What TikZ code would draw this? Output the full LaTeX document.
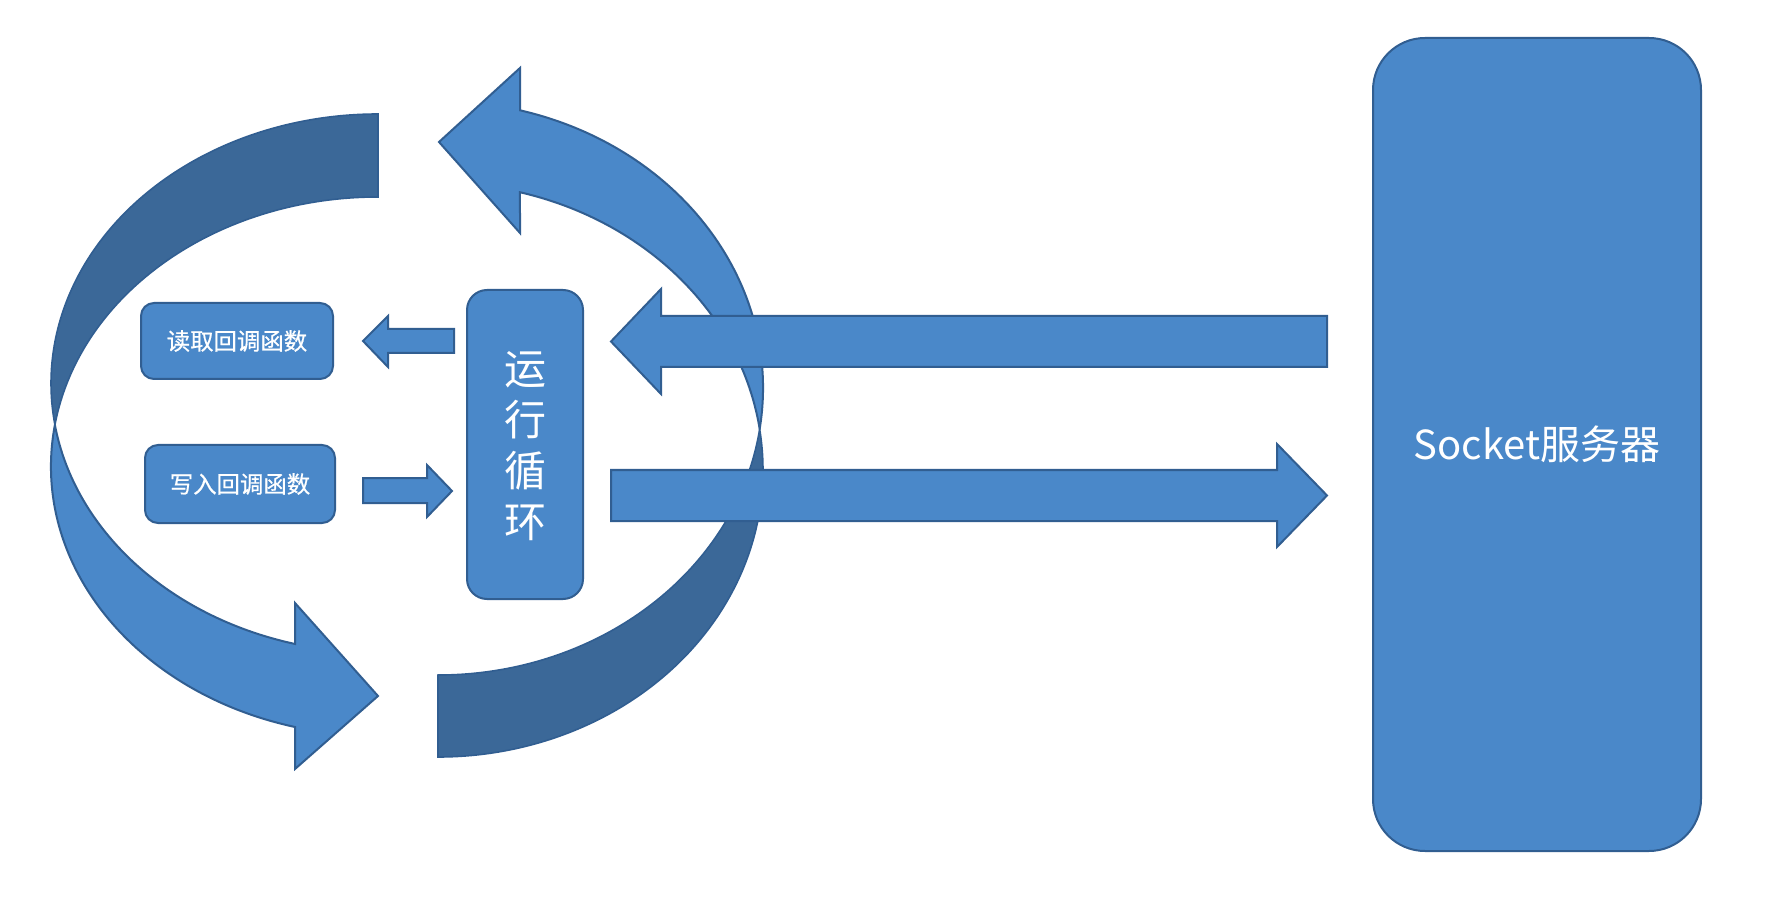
\documentclass[tikz,border=0pt]{standalone}
\usepackage{fontspec}
\setmainfont{Noto Sans CJK SC}
\newfontfamily\semibold{Noto Sans CJK SC}[FakeBold=0.6]
\definecolor{lightblue}{HTML}{4A88C9}
\definecolor{darkblue}{HTML}{3B6898}
\definecolor{edgeblue}{HTML}{315E91}
\begin{document}
\begin{tikzpicture}[x=0.5pt,y=-0.5pt,
  blk/.style={fill=lightblue,draw=edgeblue,line width=1pt,line join=miter},
  drk/.style={fill=darkblue,draw=edgeblue,line width=0.8pt},
  cbox/.style={blk,text=white,inner sep=0pt,align=center},
  smalltxt/.style={font=\semibold\fontsize{11.7pt}{14pt}\selectfont},
  bigtxt/.style={font=\fontsize{21pt}{25.5pt}\selectfont},
  socktxt/.style={font=\fontsize{20pt}{24pt}\selectfont}]
\useasboundingbox (0,0) rectangle (1772,898);
\fill[white] (0,0) rectangle (1772,898);

% left circular arrow: dark back part
\path[drk] (378,114)
  arc[start angle=270,end angle=171.12,x radius=327,y radius=269.4]
  arc[start angle=188.84,end angle=270,x radius=327,y radius=269.4] -- cycle;
% left circular arrow: light front part with head
\path[blk] (54.92,424.98)
  arc[start angle=171.12,end angle=104.70,x radius=327,y radius=269.4]
  -- (295,603) -- (378,696) -- (295,769) -- (295,727)
  arc[start angle=104.70,end angle=188.84,x radius=327,y radius=269.4] -- cycle;

% right circular arrow: dark back part
\path[drk] (438,757)
  arc[start angle=90,end angle=-8.21,x radius=325,y radius=287]
  arc[start angle=8.21,end angle=90,x radius=325,y radius=287] -- cycle;
% right circular arrow: light front part with head
\path[blk] (759.67,429)
  arc[start angle=-8.21,end angle=-75.39,x radius=325,y radius=287]
  -- (520,233) -- (439,142) -- (520,68) -- (520,110.3)
  arc[start angle=-75.39,end angle=8.21,x radius=325,y radius=287] -- cycle;

% boxes
\node[cbox,smalltxt,minimum width=96pt,minimum height=38pt,rounded corners=6.5pt] (read) at (237,341) {读取回调函数};
\node[cbox,smalltxt,minimum width=95pt,minimum height=39pt,rounded corners=6.5pt] (write) at (240,484) {写入回调函数};
\node[cbox,bigtxt,minimum width=58pt,minimum height=154.5pt,rounded corners=10pt] (loop) at (525,444.5) {};
\node[text=white,bigtxt,align=center,inner sep=0pt] (looptxt) at ([yshift=-1pt]loop.center) {运\\行\\循\\环};
\node[cbox,socktxt,minimum width=164pt,minimum height=406.5pt,rounded corners=26pt] (sock) at (1537,444.5) {Socket服务器};

% small arrows
\path[blk] (363,341) -- (388,316) -- (388,329) -- (454,329) -- (454,353) -- (388,353) -- (388,367) -- cycle;
\path[blk] (363,478) -- (427,478) -- (427,465) -- (452,491) -- (427,517) -- (427,503) -- (363,503) -- cycle;

% big arrows
\path[blk] (611,341.5) -- (661,289) -- (661,316) -- (1327,316) -- (1327,367) -- (661,367) -- (661,394) -- cycle;
\path[blk] (611,470) -- (1277,470) -- (1277,444) -- (1327,495.5) -- (1277,547) -- (1277,521) -- (611,521) -- cycle;
\end{tikzpicture}
\end{document}
